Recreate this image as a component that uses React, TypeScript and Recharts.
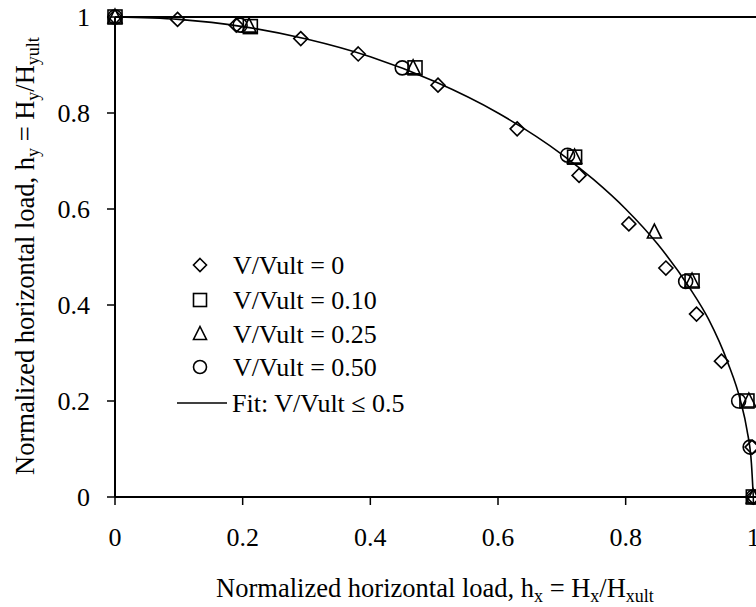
import { ComposedChart, Scatter, Line, XAxis, YAxis, ReferenceLine, Label } from 'recharts'

const FONT = 'Liberation Serif'

// h_x / h_y pairs for each vertical load ratio
const hx0 = [0, 0.098, 0.19, 0.291, 0.381, 0.506, 0.63, 0.727, 0.805, 0.863, 0.911, 0.95, 0.998, 1]
const hy0 = [1, 0.995, 0.983, 0.955, 0.923, 0.858, 0.767, 0.67, 0.569, 0.477, 0.381, 0.283, 0.104, 0]

const hx10 = [0, 0.212, 0.47, 0.72, 0.904, 0.99, 1]
const hy10 = [1, 0.98, 0.894, 0.708, 0.45, 0.2, 0]

const hx25 = [0, 0.21, 0.467, 0.72, 0.845, 0.904, 0.993, 1]
const hy25 = [1, 0.981, 0.894, 0.708, 0.552, 0.45, 0.2, 0]

const hx50 = [0, 0.196, 0.45, 0.709, 0.894, 0.977, 0.995, 1]
const hy50 = [1, 0.983, 0.894, 0.712, 0.449, 0.2, 0.104, 0]

// fitted interaction curve, V/Vult <= 0.5
const fitX = [0, 0.1, 0.2, 0.3, 0.4, 0.5, 0.6, 0.7, 0.75, 0.8, 0.85, 0.9, 0.93, 0.96, 0.98, 0.99, 0.997, 1]
const fitY = [1, 0.995, 0.98, 0.954, 0.917, 0.866, 0.8, 0.714, 0.661, 0.6, 0.527, 0.436, 0.37, 0.28, 0.2, 0.14, 0.07, 0]

const ticks = [0, 0.2, 0.4, 0.6, 0.8, 1]

const zip = (xs: number[], ys: number[]) => xs.map((x, i) => ({ x, y: ys[i] }))

const stroke = { fill: 'none', stroke: '#000', strokeWidth: 1.6 }

const diamond = (cx: number, cy: number, s = 7) =>
  <path d={`M${cx},${cy - s}L${cx + s},${cy}L${cx},${cy + s}L${cx - s},${cy}Z`} {...stroke} />
const square = (cx: number, cy: number, s = 7) =>
  <rect x={cx - s} y={cy - s} width={s * 2} height={s * 2} {...stroke} />
const triangle = (cx: number, cy: number, s = 7) =>
  <path d={`M${cx},${cy - s - 1}L${cx + s},${cy + s - 1}L${cx - s},${cy + s - 1}Z`} {...stroke} />
const circle = (cx: number, cy: number, s = 7) =>
  <circle cx={cx} cy={cy} r={s} {...stroke} />

const series = [
  { name: 'V/Vult = 0', data: zip(hx0, hy0), mark: diamond },
  { name: 'V/Vult = 0.10', data: zip(hx10, hy10), mark: square },
  { name: 'V/Vult = 0.25', data: zip(hx25, hy25), mark: triangle },
  { name: 'V/Vult = 0.50', data: zip(hx50, hy50), mark: circle },
]
const fitName = 'Fit: V/Vult \u2264 0.5'

const XTitle = () => (
  <text x={435} y={597} textAnchor="middle" fontFamily={FONT} fontSize={26.5} fill="#000">
    Normalized horizontal load, h<tspan fontSize={18} dy={5}>x</tspan>
    <tspan dy={-5}> = H</tspan><tspan fontSize={18} dy={5}>x</tspan>
    <tspan dy={-5}>/H</tspan><tspan fontSize={18} dy={5}>xult</tspan>
  </text>
)

const YTitle = () => (
  <text x={34} y={256} transform="rotate(-90, 34, 256)" textAnchor="middle" fontFamily={FONT} fontSize={26.5} fill="#000">
    Normalized horizontal load, h<tspan fontSize={18} dy={5}>y</tspan>
    <tspan dy={-5}> = H</tspan><tspan fontSize={18} dy={5}>y</tspan>
    <tspan dy={-5}>/H</tspan><tspan fontSize={18} dy={5}>yult</tspan>
  </text>
)

// row centres of the in-plot legend
const legendRows = [265, 300, 334, 367]
const fitRow = 403

export default function App() {
  return (
    <div style={{ position: 'absolute', left: 0, top: 0, width: 756, height: 607, overflow: 'hidden', background: '#fff' }}>
      <ComposedChart width={881} height={607} margin={{ top: 17, right: 0, bottom: 0, left: 0 }}>
        <XAxis
          type="number" dataKey="x" domain={[0, 1.2]} ticks={ticks} height={110}
          axisLine={{ stroke: '#000', strokeWidth: 2 }} tickLine={{ stroke: '#000', strokeWidth: 1.5 }}
          tickSize={8} tickMargin={23} tick={{ fill: '#000', fontSize: 26, fontFamily: FONT }}
        >
          <Label content={XTitle} />
        </XAxis>
        <YAxis
          type="number" dataKey="y" domain={[0, 1]} ticks={ticks} width={115}
          axisLine={{ stroke: '#000', strokeWidth: 2 }} tickLine={{ stroke: '#000', strokeWidth: 1.5 }}
          tickSize={8} tickMargin={17} tick={{ fill: '#000', fontSize: 26, fontFamily: FONT }}
        >
          <Label content={YTitle} />
        </YAxis>
        <ReferenceLine y={1} stroke="#000" strokeWidth={2} />
        <Line data={zip(fitX, fitY)} dataKey="y" type="monotone" stroke="#000" strokeWidth={1.6} dot={false} isAnimationActive={false} />
        {series.map(s => (
          <Scatter key={s.name} name={s.name} data={s.data} dataKey="y" isAnimationActive={false}
            shape={(p: any) => s.mark(p.cx, p.cy)} />
        ))}
      </ComposedChart>
      <svg width={756} height={607} style={{ position: 'absolute', left: 0, top: 0, pointerEvents: 'none' }}>
        {series.map((s, i) => (
          <g key={s.name}>
            {s.mark(200, legendRows[i], 6.5)}
            <text x={233} y={legendRows[i] + 8.5} fontFamily={FONT} fontSize={26} fill="#000">{s.name}</text>
          </g>
        ))}
        <line x1={177} x2={227} y1={fitRow} y2={fitRow} stroke="#000" strokeWidth={1.6} />
        <text x={232} y={fitRow + 8.5} fontFamily={FONT} fontSize={26} fill="#000">{fitName}</text>
      </svg>
    </div>
  )
}
